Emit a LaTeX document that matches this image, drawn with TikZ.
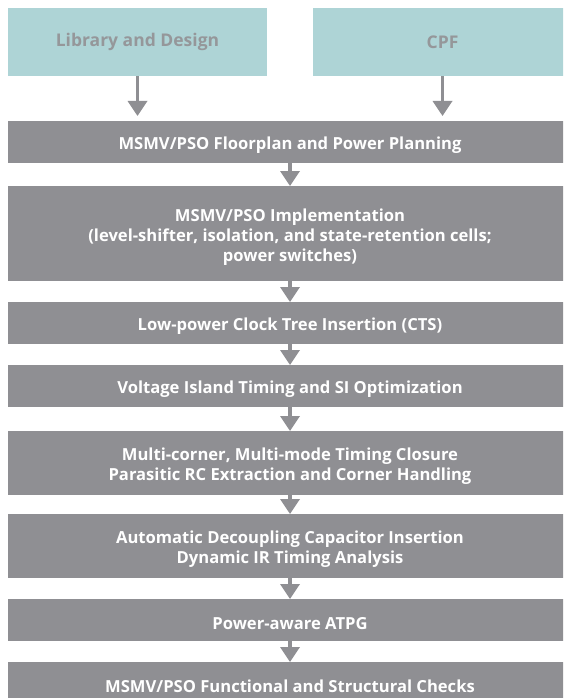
\documentclass[tikz,border=0pt]{standalone}
\usepackage{fontspec}
\setmainfont{Open Sans}
\usetikzlibrary{arrows.meta}
\definecolor{inbox}{HTML}{AED4D6}
\definecolor{flowgray}{HTML}{8F8F93}
\definecolor{labelgray}{HTML}{95979A}
\tikzset{
  inputbox/.style={fill=inbox, draw=none, minimum width=259pt, minimum height=68pt,
    inner sep=0pt, text=labelgray, font=\fontsize{17.5}{20}\selectfont\bfseries},
  stepbox/.style={fill=flowgray, draw=none, minimum width=564pt, inner sep=0pt,
    anchor=north, align=center, text=white, font=\fontsize{16.6}{20}\selectfont\bfseries},
  % text of a step sits a little below the middle of its box
  steplabel/.style={align=center, text=white, inner sep=0pt, yshift=-3pt,
    font=\fontsize{16.6}{20}\selectfont\bfseries},
  flow/.style={draw=flowgray, line width=3.5pt,
    -{Triangle[width=19pt,length=15pt]}},
}
\begin{document}
\begin{tikzpicture}[x=1pt,y=1pt]
  \useasboundingbox (0,0) rectangle (563,-698);
  \clip (0,0) rectangle (563,-698);
  \fill[white] (0,0) rectangle (563,-698);

  % input boxes
  \node[inputbox] (lib) at (137.5,-42) {Library and Design};
  \node[inputbox] (cpf) at (442.5,-42) {CPF};

  % flow steps
  \node[stepbox, minimum height=42pt, label={[steplabel]center:MSMV/PSO Floorplan and Power Planning}] (s1) at (290,-121) {};
  \node[stepbox, minimum height=95pt, label={[steplabel]center:{MSMV/PSO Implementation\\(level-shifter, isolation, and state-retention cells;\\power switches)}}] (s2) at (290,-186) {};
  \node[stepbox, minimum height=42pt, label={[steplabel]center:Low-power Clock Tree Insertion (CTS)}] (s3) at (290,-302) {};
  \node[stepbox, minimum height=42pt, label={[steplabel]center:Voltage Island Timing and SI Optimization}] (s4) at (290,-365) {};
  \node[stepbox, minimum height=64pt, label={[steplabel]center:{Multi-corner, Multi-mode Timing Closure\\Parasitic RC Extraction and Corner Handling}}] (s5) at (290,-431) {};
  \node[stepbox, minimum height=64pt, label={[steplabel]center:{Automatic Decoupling Capacitor Insertion\\Dynamic IR Timing Analysis}}] (s6) at (290,-514) {};
  \node[stepbox, minimum height=42pt, label={[steplabel]center:Power-aware ATPG}] (s7) at (290,-599) {};
  \node[stepbox, minimum height=42pt, label={[steplabel]center:MSMV/PSO Functional and Structural Checks}] (s8) at (290,-662) {};

  % connectors
  \draw[flow, shorten >=5pt] (lib.south) -- (lib.south |- s1.north);
  \draw[flow, shorten >=5pt] (cpf.south) -- (cpf.south |- s1.north);
  \draw[flow] (s1) -- (s2);
  \draw[flow] (s2) -- (s3);
  \draw[flow] (s3) -- (s4);
  \draw[flow] (s4) -- (s5);
  \draw[flow] (s5) -- (s6);
  \draw[flow] (s6) -- (s7);
  \draw[flow] (s7) -- (s8);
\end{tikzpicture}
\end{document}
